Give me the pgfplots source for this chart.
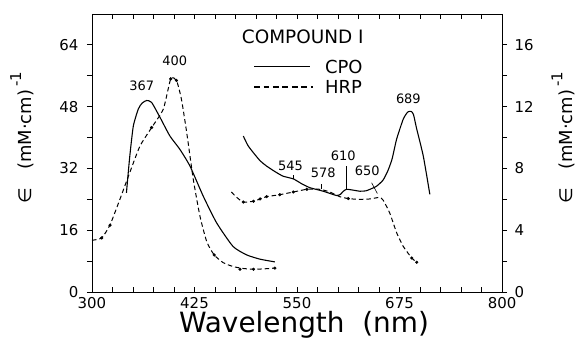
\documentclass[border=0pt]{standalone}
\usepackage{fontspec}
\setmainfont{DejaVu Sans}
\usepackage{pgfplots}
\pgfplotsset{compat=1.18}

% absorption spectra of compound I (left scale: Soret region, right scale = left/4)
\pgfplotstableread{
nm eps
342 25.7
346 35.0
350.4 43.0
356.5 47.4
361 48.9
366.6 49.6
372.7 49.1
383 45.2
395 40.4
407 37.0
419.5 32.6
435.7 24.8
452 17.9
472 11.8
488.7 9.6
505 8.5
523 7.8
}\cpoA
\pgfplotstableread{
nm eps
484.5 40.4
490 38.0
496.7 36.1
505 34.0
513 32.6
523 31.2
533 30.0
545.5 29.3
556 28.0
566 27.0
582 26.1
598 25.0
603 25.3
606.5 26.1
610.6 26.6
618 26.4
626.8 26.1
634 26.2
639 26.6
647 27.4
655 29.0
661 31.5
666 34.5
671.5 39.6
679.6 44.8
685 46.6
689 46.8
692 46.0
696 42.2
704 35.2
712 25.3
}\cpoB
\pgfplotstableread{
nm eps
300 13.4
311.8 14.0
322 17.4
334 24.0
346 30.9
358.5 37.8
372.8 42.6
387 47.4
396 55.2
403 54.8
409 50.0
415.5 41.3
423.5 29.2
431.7 19.6
440 13.0
449 9.6
460 7.6
472 6.6
484 6.1
496.7 5.9
510 6.0
523 6.2
}\hrpA
\pgfplotstableread{
nm eps
470 25.9
476 24.6
484.5 23.3
497 23.5
505 24.1
513 24.7
529 25.2
545.5 25.9
562 26.6
578 26.6
590 25.9
602 24.7
612.6 24.2
625 24.0
639 24.1
647 24.4
651 24.5
655 23.8
663 20.5
671.6 15.3
679.6 11.8
690 8.8
696 7.7
}\hrpB
% measured points on the HRP trace
\pgfplotstableread{
nm eps
311.8 14.0
322 17.3
372.7 42.6
396 55.2
403 54.8
449 9.6
480.5 5.9
497 5.9
523 6.2
484.5 23.3
497 23.5
505 24.1
513 24.7
529 25.2
545.5 25.9
562 26.6
612.6 24.2
690 8.8
696 7.7
}\hrpPts

\tikzset{ylab/.style={font=\fontsize{18}{18}\selectfont}}
\newcommand{\epsunit}{∈\quad(mM·cm)\,\raisebox{0.55em}{\fontsize{15}{15}\selectfont -1}}

\begin{document}
\begin{tikzpicture}[x=1bp,y=1bp]
\path[use as bounding box] (-92,-46) rectangle (484,292);
\pgfplotsset{
  base/.style={
    at={(0,0)}, anchor=south west, scale only axis,
    width=410bp, height=278bp,
    xmin=300, xmax=800, ymin=0, ymax=72,
    /pgf/number format/assume math mode=true,
    ticklabel style={font=\fontsize{15}{15}\selectfont},
    major tick length=5bp, minor tick length=5bp,
    every tick/.style={black, line width=0.8pt},
    axis line style={line width=0.9pt},
  },
}

% main axis: spectra, wavelength scale
\begin{axis}[base,
  tick align=inside,
  xtick={300,425,550,675,800},
  minor x tick num=4,
  ytick=\empty,
  xticklabel style={yshift=-2bp},
  xlabel={Wavelength\ \ (nm)},
  xlabel style={font=\fontsize{28}{28}\selectfont, at={(axis description cs:0.517,-0.117)}, anchor=center},
  clip=false,
]
\addplot[black, line width=1.1pt, smooth, tension=0.35] table[x=nm,y=eps] {\cpoA};
\addplot[black, line width=1.1pt, smooth, tension=0.35] table[x=nm,y=eps] {\cpoB};
\addplot[black, line width=1.0pt, dash pattern=on 4.5pt off 3pt, smooth, tension=0.35] table[x=nm,y=eps] {\hrpA};
\addplot[black, line width=1.0pt, dash pattern=on 4.5pt off 3pt, smooth, tension=0.35] table[x=nm,y=eps] {\hrpB};
\addplot[only marks, mark=*, mark size=1.4pt, black] table[x=nm,y=eps] {\hrpPts};

% key
\node[font=\fontsize{18.5}{18.5}\selectfont] at (axis cs:557,66.1) {COMPOUND I};
\draw[line width=1.1pt] (axis cs:497.6,58.3) -- (axis cs:565.9,58.3);
\draw[line width=1.1pt, dash pattern=on 6pt off 3.5pt] (axis cs:497.6,53.1) -- (axis cs:569.5,53.1);
\node[anchor=west, inner sep=0pt, font=\fontsize{18}{18}\selectfont] at (axis cs:584,58.3) {CPO};
\node[anchor=west, inner sep=0pt, font=\fontsize{18}{18}\selectfont] at (axis cs:584,53.1) {HRP};

% band maxima
\begin{scope}[every node/.style={font=\fontsize{13}{13}\selectfont, inner sep=0pt}]
\node at (axis cs:360.6,53.5) {367};
\node at (axis cs:401,60) {400};
\node at (axis cs:542,32.6) {545};
\node at (axis cs:582,30.9) {578};
\node at (axis cs:606.5,35.4) {610};
\node at (axis cs:635.7,31.3) {650};
\node at (axis cs:685.8,50) {689};
\end{scope}
\draw[line width=0.6pt] (axis cs:545.5,29.2) -- (axis cs:545.5,30.2);
\draw[line width=0.6pt] (axis cs:580,26.6) -- (axis cs:580,27.9);
\draw[line width=0.6pt] (axis cs:610.6,26.6) -- (axis cs:610.6,32.6);
\draw[line width=0.6pt] (axis cs:641,28.3) -- (axis cs:648,25.5);
\end{axis}

% left scale
\begin{axis}[base,
  axis x line=none, axis y line*=left,
  tick align=outside,
  ytick={0,16,32,48,64},
  minor ytick={8,24,40,56},
  yticklabel style={xshift=-5bp},
  ylabel={\epsunit},
  ylabel style={ylab, at={(axis description cs:-0.171,0.555)}, anchor=center},
]
\end{axis}

% right scale
\begin{axis}[base,
  ymin=0, ymax=18,
  axis x line=none, axis y line*=right,
  tick align=outside,
  ytick={0,4,8,12,16},
  minor ytick={2,6,10,14},
  yticklabel style={xshift=4bp},
  ylabel={\epsunit},
  ylabel style={ylab, at={(axis description cs:1.149,0.555)}, anchor=center},
]
\end{axis}
\end{tikzpicture}
\end{document}
